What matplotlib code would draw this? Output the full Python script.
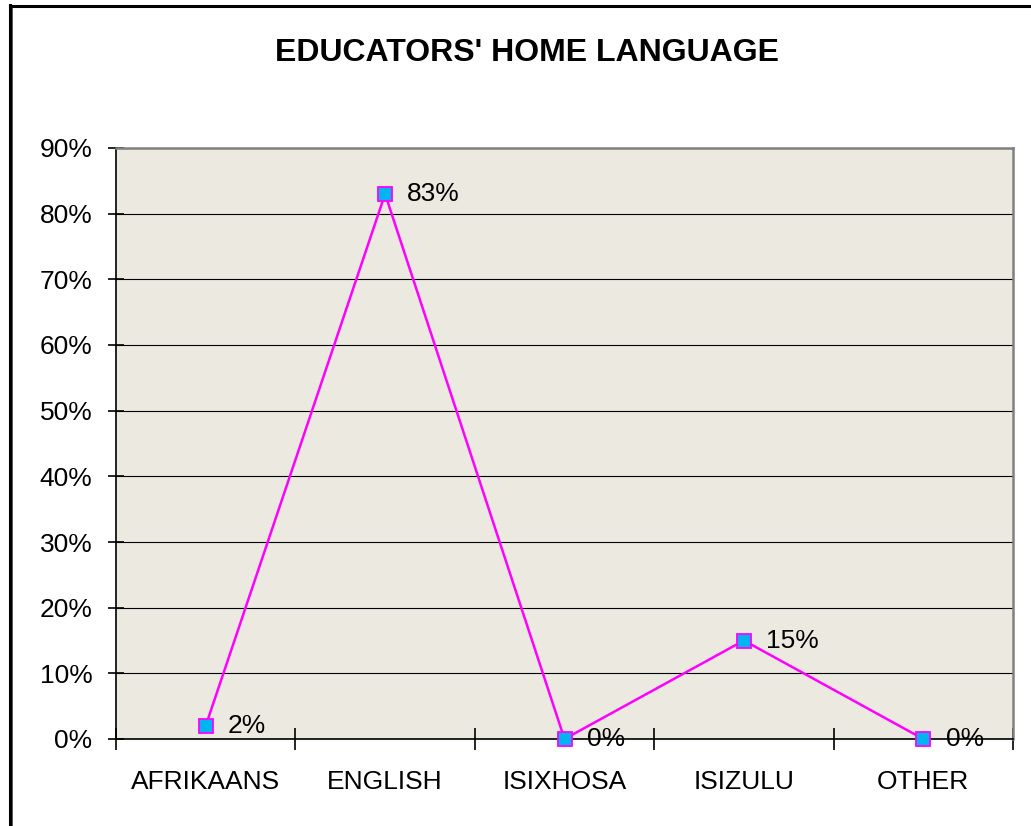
import matplotlib.pyplot as plt
from matplotlib.lines import Line2D
from matplotlib.ticker import FuncFormatter

categories = ['AFRIKAANS', 'ENGLISH', 'ISIXHOSA', 'ISIZULU', 'OTHER']
values = [2, 83, 0, 15, 0]
y_ticks = [0, 10, 20, 30, 40, 50, 60, 70, 80, 90]

plt.rcParams['font.family'] = ['Liberation Sans', 'DejaVu Sans']

fig = plt.figure(figsize=(10.31, 8.26), dpi=100)
W, H = 1031, 826
ax = fig.add_axes([116 / W, 1 - 739 / H, (1013 - 116) / W, (739 - 148) / H])
ax.set_facecolor('#ECE9E0')

x = list(range(len(categories)))
ax.plot(x, values, color='#FF00FF', lw=1.8, marker='s', ms=10,
        mfc='#00B4F0', mec='#FF00FF', mew=1.3, zorder=5, clip_on=False)
for xi, v in zip(x, values):
    ax.annotate(f'{v}%', (xi, v), xytext=(16, 0), textcoords='offset points',
                fontsize=19, va='center', ha='left', zorder=6)

ax.set_xlim(-0.5, len(categories) - 0.5)
ax.set_ylim(0, 90)
ax.set_yticks(y_ticks)
ax.yaxis.set_major_formatter(FuncFormatter(lambda v, p: f'{v:.0f}%'))
ax.grid(axis='y', color='#000000', lw=0.8)
ax.set_axisbelow(True)

ax.set_xticks([i - 0.5 for i in range(len(categories) + 1)])
ax.set_xticklabels([])
ax.set_xticks(x, minor=True)
ax.set_xticklabels(categories, minor=True, fontsize=19)
ax.tick_params(axis='x', which='minor', length=0, pad=22)
ax.tick_params(axis='x', which='major', direction='inout', length=16, width=1.2)
ax.tick_params(axis='y', direction='inout', length=12, width=1.2, labelsize=19, pad=11)

for s in ['left', 'bottom']:
    ax.spines[s].set_color('#000000')
    ax.spines[s].set_linewidth(1.2)
for s in ['top', 'right']:
    ax.spines[s].set_color('#808080')
    ax.spines[s].set_linewidth(1.8)

fig.text(527 / W, 1 - 53 / H, "EDUCATORS' HOME LANGUAGE", ha='center', va='center',
         fontsize=23, fontweight='bold')

# outer frame (only top and left visible in the crop)
fig.add_artist(Line2D([9.5 / W, 9.5 / W], [0, 1 - 5 / H], color='black', lw=2.2, transform=fig.transFigure))
fig.add_artist(Line2D([12 / W, 12 / W], [0, 1 - 5 / H], color='#555555', lw=0.7, transform=fig.transFigure))
fig.add_artist(Line2D([9.5 / W, 1], [1 - 6 / H, 1 - 6 / H], color='black', lw=2.2, transform=fig.transFigure))

fig.savefig('out.png', dpi=100)
